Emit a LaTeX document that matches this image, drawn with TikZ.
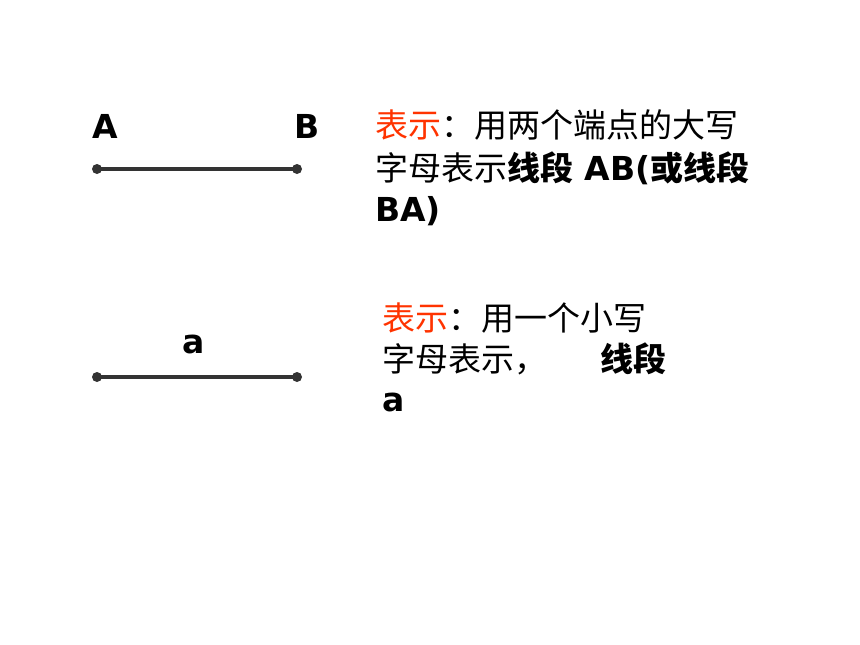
\documentclass[tikz,border=0pt]{standalone}
\usepackage{fontspec}
\newfontfamily\cjk{Noto Sans CJK SC}
\newfontfamily\lat{DejaVu Sans}
\definecolor{segc}{RGB}{51,51,51}
\definecolor{redc}{RGB}{255,51,0}
\tikzset{
  seg/.style={draw=segc, line width=3.2pt},
  enddot/.style={circle, fill=segc, inner sep=0pt, minimum size=10pt},
  lbl/.style={inner sep=0pt, anchor=base west, font=\fontsize{33}{40}\selectfont},
}
\newcommand{\bl}[1]{{\lat\bfseries #1}}
\newcommand{\bc}[1]{{\cjk\bfseries #1}}
\newcommand{\rc}[1]{{\cjk #1}}
\begin{document}
\begin{tikzpicture}[x=1pt,y=-1pt]
\useasboundingbox (0,0) rectangle (860,645);
% segment AB
\node[enddot] (p1) at (97,169) {};
\node[enddot] (p2) at (297,169) {};
\draw[seg] (p1.center) -- (p2.center);
\node[lbl] (lA) at (92,138) {\bl{A}};
\node[lbl] (lB) at (294,138) {\bl{B}};
% segment a
\node[enddot] (q1) at (97,377) {};
\node[enddot] (q2) at (297,377) {};
\draw[seg] (q1.center) -- (q2.center);
\node[lbl] (la) at (182,353) {\bl{a}};
% text block 1
\node[lbl] (t11) at (375,137) {\cjk\textcolor{redc}{表示}：用两个端点的大写};
\node[lbl] (t12) at (375,180) {\rc{字母表示}\bc{线段}\bl{ AB(}\bc{或线段}};
\node[lbl] (t13) at (375,221) {\bl{BA)}};
% text block 2
\node[lbl] (t21) at (382,330) {\cjk\textcolor{redc}{表示}：用一个小写};
\node[lbl] (t22) at (382,371) {\rc{字母表示，}};
\node[lbl] (t22b) at (600,371) {\bc{线段}};
\node[lbl] (t23) at (382,411) {\bl{a}};
\end{tikzpicture}
\end{document}
